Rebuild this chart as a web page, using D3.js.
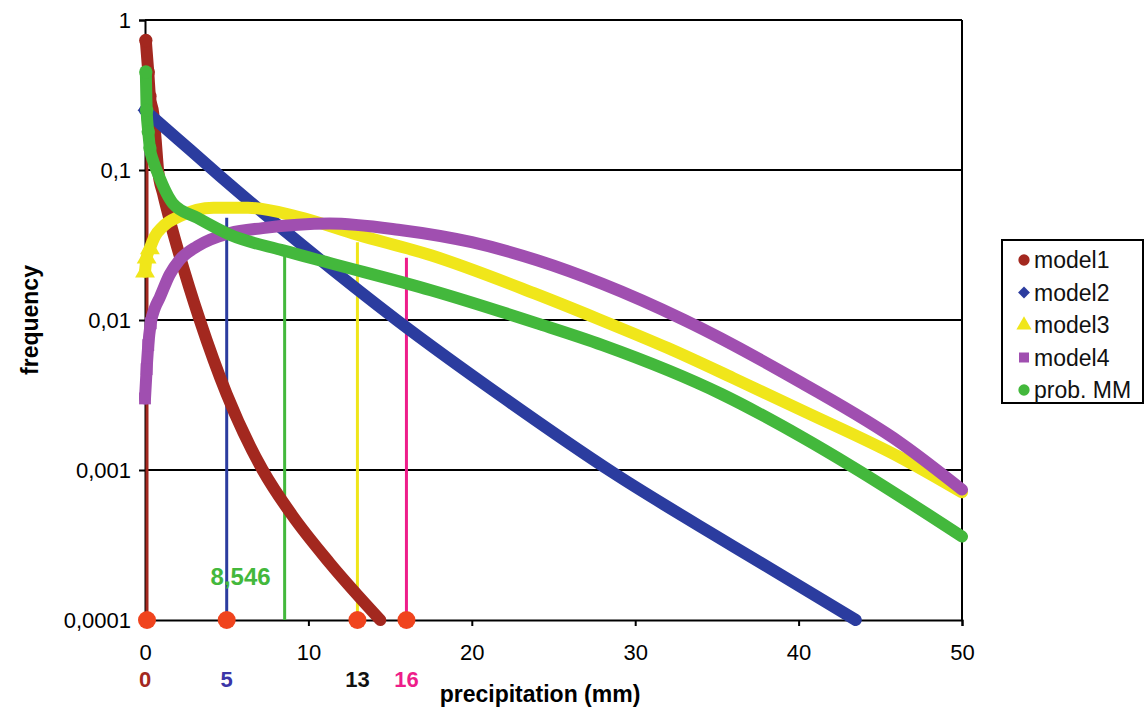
<!DOCTYPE html>
<html>
<head>
<meta charset="utf-8">
<script src="https://cdn.jsdelivr.net/npm/d3@7"></script>
<style>
  body { margin: 0; background: #fff; }
  svg { display: block; font-family: "Liberation Sans", Arial, sans-serif; }
</style>
</head>
<body>
<div id="chart"></div>
<script>
// series values: [precipitation (mm), frequency]
const model1 = [[0.05,0.73],[0.2,0.45],[0.3,0.31],[0.5,0.24],[0.65,0.16],[0.8,0.1],[1.1,0.07],[1.5,0.047],[2.7,0.0166],[3.35,0.01],[5,0.0032],[7.2,0.001],[9,0.0005],[11.3,0.00024],[14.4,0.0001]];
const model2 = [[0,0.25],[2,0.161],[4.6,0.091],[10,0.0292],[15.4,0.01],[22,0.003],[28.7,0.00095],[36,0.00031],[43.5,0.0001]];
const model3 = [[0,0.021],[0.1,0.026],[0.3,0.03],[0.6,0.036],[1.1,0.042],[2.1,0.049],[4.2,0.056],[6.3,0.056],[9.3,0.049],[13,0.037],[17.5,0.027],[23.8,0.0151],[27.7,0.0102],[32,0.0065],[36,0.0041],[40.2,0.0025],[46.3,0.0012],[50,0.00071]];
const model4 = [[0,0.003],[0.1,0.0047],[0.2,0.0068],[0.35,0.0095],[0.6,0.012],[0.9,0.0141],[1.5,0.02],[2.1,0.025],[3.2,0.031],[5.2,0.038],[7.2,0.041],[11.3,0.044],[15.5,0.04],[20,0.033],[24,0.025],[28,0.0174],[33,0.01],[40.2,0.0038],[46.3,0.0015],[50,0.00074]];
const probMM = [[0.05,0.45],[0.1,0.25],[0.2,0.18],[0.3,0.14],[0.5,0.115],[0.8,0.094],[1.7,0.06],[3.2,0.048],[5.2,0.037],[8.5,0.029],[11.3,0.024],[17.5,0.0158],[24,0.0095],[28,0.0068],[35.3,0.0032],[40.2,0.00166],[43.3,0.00105],[50,0.00036]];

const seriesNames = ["model1", "model2", "model3", "model4", "prob. MM"];
const seriesData = [model1, model2, model3, model4, probMM];
const seriesColors = ["#a3281f", "#2b3c9f", "#f0e61a", "#a04fb0", "#43b83c"];
const seriesSymbols = [d3.symbolCircle, d3.symbolDiamond2, d3.symbolTriangle, d3.symbolSquare, d3.symbolCircle];

// threshold markers (vertical lines) and where they stop
const thresholdX = [0, 5, 8.546, 13, 16];
const thresholdTop = [0.73, 0.048, 0.027, 0.033, 0.026];
const thresholdColors = ["#a3281f", "#2b3c9f", "#43b83c", "#f0e61a", "#ee1d8a"];

// dots on the x axis and their labels
const dotX = [0, 5, 13, 16];
const dotLabels = ["0", "5", "13", "16"];
const dotLabelColors = ["#a3281f", "#3b35a8", "#111111", "#ee1d8a"];
const annotation = "8,546";

const xTicks = [0, 10, 20, 30, 40, 50];
const yTicks = [1, 0.1, 0.01, 0.001, 0.0001];
const yTickLabels = ["1", "0,1", "0,01", "0,001", "0,0001"];

const W = 1145, H = 711;
const margin = { top: 20, right: 183, bottom: 91, left: 145 };
const width = W - margin.left - margin.right;
const height = H - margin.top - margin.bottom;

const svg = d3.select("#chart").append("svg")
  .attr("width", W)
  .attr("height", H);

const g = svg.append("g")
  .attr("transform", `translate(${margin.left},${margin.top})`);

const x = d3.scaleLinear().domain([0, 50]).range([0, width]);
const y = d3.scaleLog().domain([0.0001, 1]).range([height, 0]);

// horizontal gridlines
g.selectAll(".grid")
  .data(yTicks.slice(0, -1))
  .join("line")
  .attr("x1", 0)
  .attr("x2", width)
  .attr("y1", d => y(d))
  .attr("y2", d => y(d))
  .attr("stroke", "#000")
  .attr("stroke-width", 2);

// right border
g.append("line")
  .attr("x1", width).attr("x2", width)
  .attr("y1", 0).attr("y2", height)
  .attr("stroke", "#000")
  .attr("stroke-width", 2);

// axes
const yAxis = d3.axisLeft(y)
  .tickValues(yTicks)
  .tickFormat((d, i) => yTickLabels[i])
  .tickSize(6)
  .tickPadding(8);

g.append("g")
  .call(yAxis)
  .call(a => a.select(".domain").attr("stroke-width", 2))
  .call(a => a.selectAll(".tick line").attr("stroke-width", 2))
  .selectAll(".tick text")
  .attr("font-size", 22)
  .attr("fill", "#000");

const xAxis = d3.axisBottom(x)
  .tickValues(xTicks)
  .tickSize(6)
  .tickPadding(18);

g.append("g")
  .attr("transform", `translate(0,${height})`)
  .call(xAxis)
  .call(a => a.select(".domain").attr("stroke-width", 2))
  .call(a => a.selectAll(".tick line").attr("stroke-width", 2))
  .selectAll(".tick text")
  .attr("font-size", 22)
  .attr("fill", "#000");

// vertical threshold lines
g.selectAll(".thr")
  .data(thresholdX)
  .join("line")
  .attr("x1", d => x(d) + (d === 0 ? 2 : 0))
  .attr("x2", d => x(d) + (d === 0 ? 2 : 0))
  .attr("y1", height)
  .attr("y2", (d, i) => y(thresholdTop[i]))
  .attr("stroke", (d, i) => thresholdColors[i])
  .attr("stroke-width", 3);

// series: thick band, like the overlapping markers of the original
const line = d3.line()
  .x(d => x(d[0]))
  .y(d => y(d[1]))
  .curve(d3.curveMonotoneX);

seriesData.forEach((data, i) => {
  const s = g.append("g");
  s.append("path")
    .datum(data)
    .attr("fill", "none")
    .attr("stroke", seriesColors[i])
    .attr("stroke-width", 12)
    .attr("stroke-linecap", "round")
    .attr("stroke-linejoin", "round")
    .attr("d", line);
  // separate markers only show where the curve is near vertical (close to 0 mm)
  s.selectAll("path.pt")
    .data(data.filter(d => d[0] < 0.5))
    .join("path")
    .attr("class", "pt")
    .attr("transform", d => `translate(${x(d[0])},${y(d[1])})`)
    .attr("d", d3.symbol().type(seriesSymbols[i]).size(i === 2 ? 170 : 140))
    .attr("fill", seriesColors[i]);
});

// dots on the x axis
g.selectAll(".dot")
  .data(dotX)
  .join("circle")
  .attr("cx", d => x(d) + (d === 0 ? 2 : 0))
  .attr("cy", height)
  .attr("r", 9)
  .attr("fill", "#f0441e");

// value labels under the axis
g.selectAll(".dotLabel")
  .data(dotX)
  .join("text")
  .attr("x", d => x(d))
  .attr("y", height + 67)
  .attr("text-anchor", "middle")
  .attr("font-size", 22)
  .attr("font-weight", "bold")
  .attr("fill", (d, i) => dotLabelColors[i])
  .text((d, i) => dotLabels[i]);

// 8,546 annotation next to the green line
g.append("text")
  .attr("x", x(thresholdX[2]) - 14)
  .attr("y", height - 35)
  .attr("text-anchor", "end")
  .attr("font-size", 24)
  .attr("font-weight", "bold")
  .attr("fill", "#43b83c")
  .text(annotation);

// axis titles
g.append("text")
  .attr("x", 395)
  .attr("y", height + 82)
  .attr("text-anchor", "middle")
  .attr("font-size", 23)
  .attr("font-weight", "bold")
  .text("precipitation (mm)");

g.append("text")
  .attr("transform", `translate(${32 - margin.left + 6},${height / 2}) rotate(-90)`)
  .attr("text-anchor", "middle")
  .attr("font-size", 23)
  .attr("font-weight", "bold")
  .text("frequency");

// legend
const legend = svg.append("g").attr("transform", "translate(1002,240)");
legend.append("rect")
  .attr("width", 141)
  .attr("height", 163)
  .attr("fill", "#fff")
  .attr("stroke", "#000")
  .attr("stroke-width", 2);

const items = legend.selectAll(".item")
  .data(seriesNames)
  .join("g")
  .attr("transform", (d, i) => `translate(0,${28 + i * 32.5})`);

items.append("path")
  .attr("transform", "translate(22,-8)")
  .attr("d", (d, i) => d3.symbol().type(seriesSymbols[i]).size(i === 1 ? 90 : 100)())
  .attr("fill", (d, i) => seriesColors[i]);

items.append("text")
  .attr("x", 32)
  .attr("font-size", 23)
  .attr("fill", "#111")
  .text(d => d);
</script>
</body>
</html>
